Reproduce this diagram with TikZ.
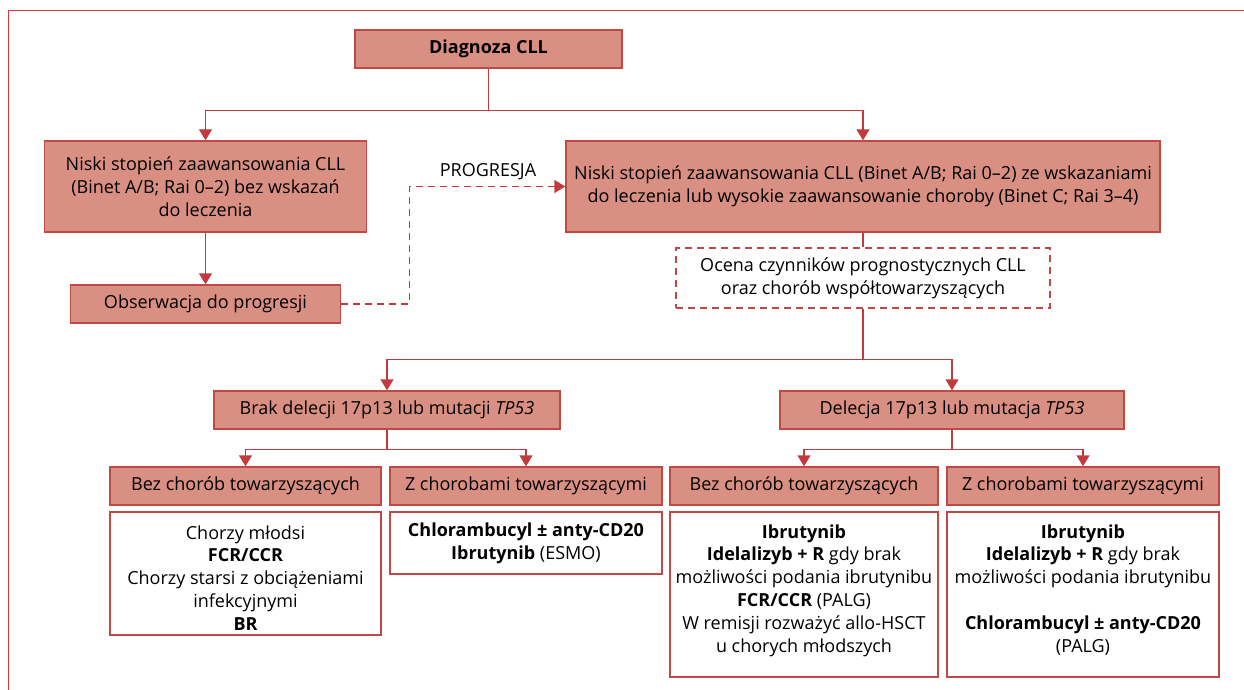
\documentclass[tikz,border=0pt]{standalone}
\usepackage{fontspec}
\setmainfont{Open Sans}
\usetikzlibrary{arrows.meta,calc}
\definecolor{boxfill}{HTML}{D98F82}
\definecolor{boxdraw}{HTML}{BF4A45}
\definecolor{linecol}{HTML}{C23A3C}
\definecolor{framecol}{HTML}{D9353A}
\begin{document}
\begin{tikzpicture}[x=1pt,y=-1pt,
  every node/.style={font=\fontsize{18}{22.8}\selectfont, align=center, inner sep=0pt},
  fbox/.style 2 args={draw=boxdraw, fill=boxfill, line width=1.4pt, minimum width=#1, minimum height=#2},
  wbox/.style 2 args={draw=boxdraw, fill=white, line width=1.4pt, minimum width=#1, minimum height=#2},
  dbox/.style 2 args={draw=boxdraw, line width=1.4pt, dash pattern=on 7pt off 5pt, minimum width=#1, minimum height=#2},
  txt/.style={anchor=north},
  conn/.style={draw=linecol, line width=1.4pt},
  arr/.style={conn, -{Triangle[width=13pt,length=11pt]}},
  darr/.style={arr, dash pattern=on 7pt off 5pt}]
\useasboundingbox (0,0) rectangle (1244,690);
\draw[framecol, line width=1pt] (8,690) -- (8,10.5) -- (1244,10.5);

\node[fbox={267pt}{38pt}] (diag) at (488.5,49) {\textbf{Diagnoza CLL}};
\node[fbox={322pt}{91pt}] (low) at (205.5,186.5) {Niski stopień zaawansowania CLL\\(Binet A/B; Rai 0–2) bez wskazań\\do leczenia};
\node[fbox={594pt}{91pt}] (high) at (863,186.5) {Niski stopień zaawansowania CLL (Binet A/B; Rai 0–2) ze wskazaniami\\do leczenia lub wysokie zaawansowanie choroby (Binet C; Rai 3–4)};
\node[fbox={270pt}{38pt}] (obs) at (205.5,304) {Obserwacja do progresji};
\node[dbox={374pt}{60pt}] (ocena) at (863,278) {Ocena czynników prognostycznych CLL\\oraz chorób współtowarzyszących};
\node[fbox={346pt}{38pt}] (brak) at (387,410) {Brak delecji 17p13 lub mutacji \textit{TP53}};
\node[fbox={344pt}{38pt}] (del) at (952,410) {Delecja 17p13 lub mutacja \textit{TP53}};

\node[fbox={271pt}{38pt}] (b1) at (245.5,486) {Bez chorób towarzyszących};
\node[fbox={272pt}{38pt}] (z1) at (526,486) {Z chorobami towarzyszącymi};
\node[fbox={268pt}{38pt}] (b2) at (804,486) {Bez chorób towarzyszących};
\node[fbox={272pt}{38pt}] (z2) at (1083,486) {Z chorobami towarzyszącymi};

\node[wbox={271pt}{123pt}] (t1) at (245.5,573.5) {};
\node[txt] (t1text) at ($(t1.north)+(0,14)$) {Chorzy młodsi\\\textbf{FCR/CCR}\\Chorzy starsi z obciążeniami\\infekcyjnymi\\\textbf{BR}};
\node[wbox={272pt}{62pt}] (t2) at (526,543) {\textbf{Chlorambucyl ± anty-CD20}\\\textbf{Ibrutynib} (ESMO)};
\node[wbox={268pt}{165pt}] (t3) at (804,594.5) {};
\node[txt] (t3text) at ($(t3.north)+(0,13)$) {\textbf{Ibrutynib}\\\textbf{Idelalizyb + R} gdy brak\\możliwości podania ibrutynibu\\\textbf{FCR/CCR} (PALG)\\W remisji rozważyć allo-HSCT\\u chorych młodszych};
\node[wbox={272pt}{165pt}] (t4) at (1083,594.5) {};
\node[txt] (t4text) at ($(t4.north)+(0,13)$) {\textbf{Ibrutynib}\\\textbf{Idelalizyb + R} gdy brak\\możliwości podania ibrutynibu\\[22.8pt]\textbf{Chlorambucyl ± anty-CD20}\\(PALG)};

\draw[arr] (diag.south) -- ++(0,42) -| (low.north);
\draw[arr] (diag.south) -- ++(0,42) -| (high.north);
\draw[arr] (low.south) -- (obs.north);
\draw[darr] (obs.east) -- ++(68,0) |- (high.west);
\node (prog) at (488,172) {PROGRESJA};
\draw[conn] (high.south) -- (ocena.north);
\draw[arr] (ocena.south) -- ++(0,51) -| (brak.north);
\draw[arr] (ocena.south) -- ++(0,51) -| (del.north);
\draw[arr] (brak.south) -- ++(0,20) -| (b1.north);
\draw[arr] (brak.south) -- ++(0,20) -| (z1.north);
\draw[arr] (del.south) -- ++(0,20) -| (b2.north);
\draw[arr] (del.south) -- ++(0,20) -| (z2.north);
\end{tikzpicture}
\end{document}
